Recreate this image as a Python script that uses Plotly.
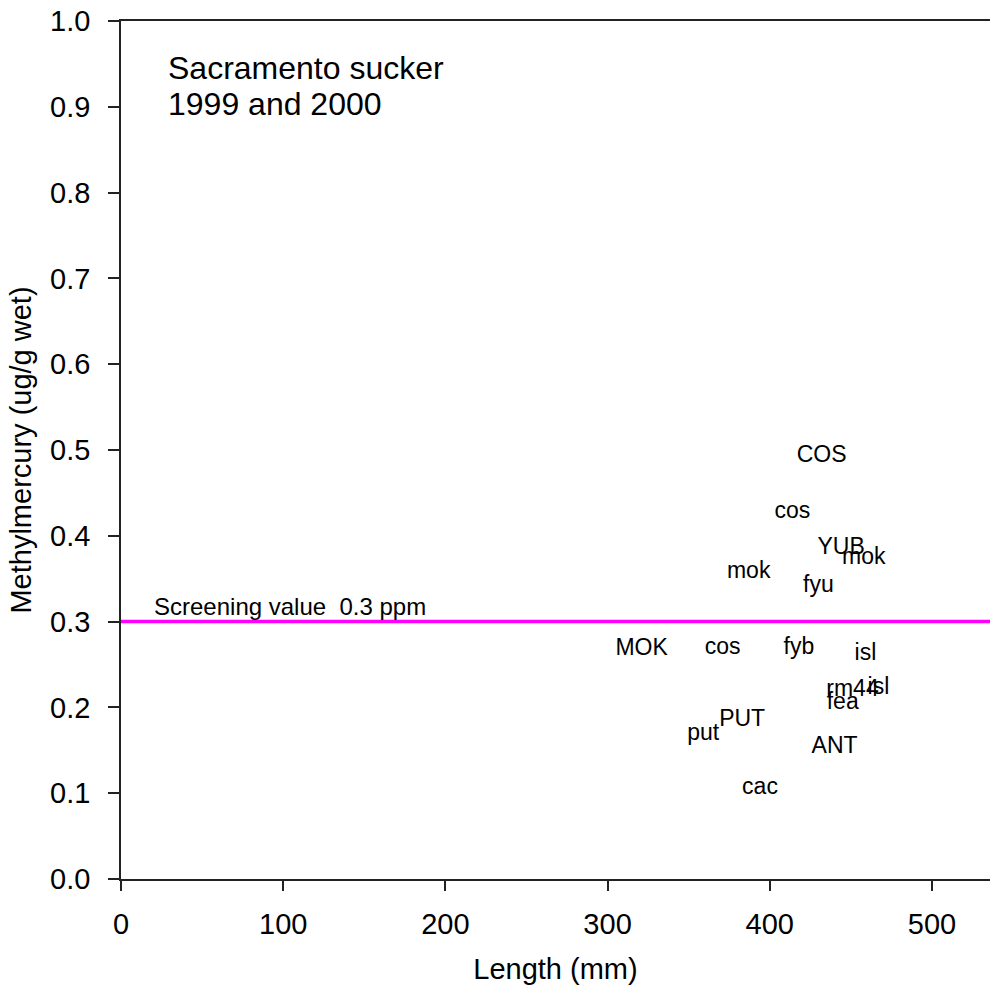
import plotly.graph_objects as go

# Sampling sites (labels) with fish length (mm) and methylmercury (ug/g wet)
site_labels = ["COS", "cos", "YUB", "mok", "mok", "fyu", "MOK", "cos", "fyb",
               "isl", "rm44", "isl", "fea", "PUT", "put", "ANT", "cac"]
length_mm = [432, 414, 444, 458, 387, 430, 321, 371, 418,
             459, 451, 467, 445, 383, 359, 440, 394]
mehg = [0.493, 0.428, 0.385, 0.374, 0.357, 0.341, 0.268, 0.269, 0.269,
        0.262, 0.220, 0.222, 0.205, 0.185, 0.169, 0.153, 0.106]

screening_value = 0.3
x_range = [0, 535.8]
y_range = [0, 1.0]
x_ticks = [0, 100, 200, 300, 400, 500]
y_ticks = [0.0, 0.1, 0.2, 0.3, 0.4, 0.5, 0.6, 0.7, 0.8, 0.9, 1.0]

FONT = "Liberation Sans, Arial, sans-serif"
AXIS_COLOR = "#222222"

fig = go.Figure()

# Screening value reference line
fig.add_trace(go.Scatter(
    x=x_range, y=[screening_value, screening_value], mode="lines",
    line=dict(color="#FF00FF", width=3.5), hoverinfo="skip", showlegend=False,
))

# Site labels drawn at each sample position
fig.add_trace(go.Scatter(
    x=length_mm, y=mehg, mode="text", text=site_labels,
    textposition="middle center",
    textfont=dict(family=FONT, size=23, color="black"),
    showlegend=False,
))

fig.add_annotation(
    x=19, y=screening_value, xref="x", yref="y",
    text="Screening value  0.3 ppm", showarrow=False,
    xanchor="left", yanchor="bottom", yshift=0,
    font=dict(family=FONT, size=24, color="black"),
)

# Species / years caption
fig.add_annotation(
    x=28, y=0.945, xref="x", yref="y", text="Sacramento sucker",
    showarrow=False, xanchor="left", yanchor="middle",
    font=dict(family=FONT, size=32, color="black"),
)
fig.add_annotation(
    x=28, y=0.903, xref="x", yref="y", text="1999 and 2000",
    showarrow=False, xanchor="left", yanchor="middle",
    font=dict(family=FONT, size=32, color="black"),
)

fig.update_layout(
    width=990, height=989,
    margin=dict(l=121, r=0, t=21, b=110),
    paper_bgcolor="white", plot_bgcolor="white",
    font=dict(family=FONT, color="black"),
    xaxis=dict(
        range=x_range, tickvals=x_ticks, ticks="outside", ticklen=10,
        tickwidth=1.5, tickcolor=AXIS_COLOR, showline=True, linecolor=AXIS_COLOR,
        linewidth=1.5, mirror=True, showgrid=False, zeroline=False,
        tickfont=dict(family=FONT, size=29), ticklabelstandoff=8,
        title=dict(text="Length (mm)", font=dict(family=FONT, size=29), standoff=20),
    ),
    yaxis=dict(
        range=y_range, tickvals=y_ticks, tickformat=".1f", ticks="outside",
        ticklen=11, tickwidth=1.5, tickcolor=AXIS_COLOR, showline=True,
        linecolor=AXIS_COLOR, linewidth=1.5, showgrid=False, zeroline=False,
        tickfont=dict(family=FONT, size=29), ticklabelstandoff=12,
        title=dict(text="Methylmercury (ug/g wet)", font=dict(family=FONT, size=29), standoff=10),
    ),
)

fig.write_html("out.html")
